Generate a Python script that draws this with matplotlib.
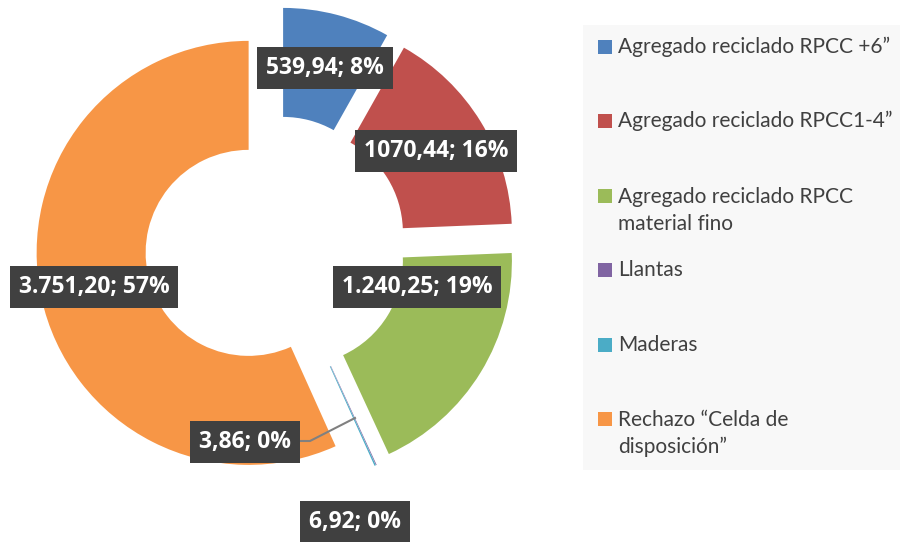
import matplotlib.pyplot as plt
from matplotlib.patches import Rectangle

categories = ['Agregado reciclado RPCC +6\u201d',
              'Agregado reciclado RPCC1-4\u201d',
              'Agregado reciclado RPCC\nmaterial fino',
              'Llantas',
              'Maderas',
              'Rechazo \u201cCelda de\ndisposici\u00f3n\u201d']
values = [539.94, 1070.44, 1240.25, 3.86, 6.92, 3751.20]
data_labels = ['539,94; 8%', '1070,44; 16%', '1.240,25; 19%',
               '3,86; 0%', '6,92; 0%', '3.751,20; 57%']
colors = ['#4F81BD', '#C0504D', '#9BBB59', '#8064A2', '#4BACC6', '#F79646']

W, H = 900, 542
fig = plt.figure(figsize=(W / 100, H / 100), dpi=100)
ax = fig.add_axes([0, 0, 1, 1])

# donut, in pixel units (y measured from the bottom)
cx, cy, R, ring = 276, H - 247, 212, 109
ax.pie(values, colors=colors, startangle=90, counterclock=False,
       center=(cx, cy), radius=R, explode=[28] * len(values),
       wedgeprops=dict(width=ring, edgecolor='none'), frame=True)
ax.set_xlim(0, W)
ax.set_ylim(0, H)
ax.set_aspect('equal')
ax.axis('off')

# data labels (pixel positions)
label_pos = [(325, 68), (436, 151), (417, 287), (245, 442), (355, 522), (94, 287)]
for txt, (px, py) in zip(data_labels, label_pos):
    ax.text(px, H - py, txt, ha='center', va='center', color='white',
            fontsize=16.5, fontweight='bold', family=['Open Sans', 'DejaVu Sans'],
            bbox=dict(boxstyle='square,pad=0.38', fc='#404040', ec='none'))

# leader line for the tiny slice
ax.plot([300, 310, 355], [H - 441, H - 441, H - 418], color='#808080', lw=1.5)

# legend drawn by hand
ax.add_patch(Rectangle((583, H - 470), 317, 445, fc='#F8F8F8', ec='none', zorder=0))
legend_y = [47, 121, 196, 270, 345, 419]
for name, col, ly in zip(categories, colors, legend_y):
    ax.add_patch(Rectangle((598, H - ly - 7), 14, 14, fc=col, ec='none'))
    ty = ly + 14.5 if '\n' in name else ly
    ax.text(618, H - ty, name, ha='left', va='center',
            fontsize=15, color='#404040', family=['Lato', 'DejaVu Sans'],
            linespacing=1.45)

fig.savefig('out.png', dpi=100)
